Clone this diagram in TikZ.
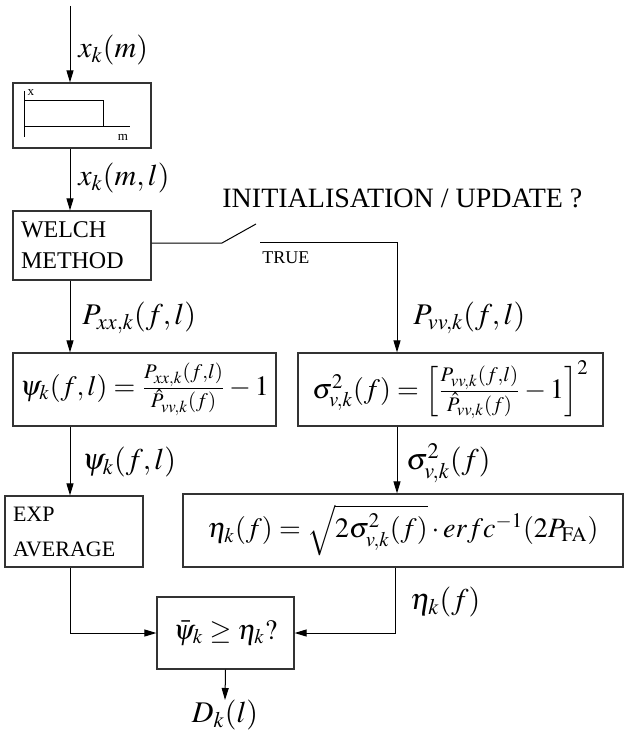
\documentclass[tikz,border=0pt]{standalone}
\usepackage{mathptmx}
\usepackage{fontspec}
\setmainfont{Liberation Serif}
\usepackage{tikz}
\usetikzlibrary{arrows.meta}

\begin{document}
\begin{tikzpicture}[x=0.5pt, y=-0.5pt,
  block/.style={rectangle, draw=black!80, line width=0.6pt, inner sep=0pt},
  txtblock/.style={block, align=left, inner xsep=4pt, text width=61pt,
    font=\fontsize{12}{15.5}\selectfont},
  eqn/.style={block, minimum height=36.5pt, font=\fontsize{14}{16}\selectfont},
  lbl/.style={anchor=west, inner sep=0pt, font=\fontsize{15}{18}\selectfont},
  tiny/.style={inner sep=0pt, font=\fontsize{6.5}{7}\selectfont},
  flow/.style={-{Triangle[length=6pt,width=3.5pt]}, line width=0.5pt},
  wire/.style={line width=0.5pt},
]
  \useasboundingbox (0,0) rectangle (624,733);

  % blocks
  \node[block, minimum width=69pt, minimum height=32.5pt] (frame) at (82,115.5) {};
  \node[txtblock, minimum height=34.5pt] (welch) at (82,245.5) {WELCH\\METHOD};
  \node[eqn, minimum width=131.5pt] (psi) at (144.5,389.5)
    {$\psi_k(f,l)=\frac{P_{xx,k}(f,l)}{\hat{P}_{vv,k}(f)}-1$};
  \node[eqn, minimum width=152.5pt] (sigma) at (450.5,389.5)
    {$\sigma^2_{v,k}(f)=\left[\frac{P_{vv,k}(f,l)}{\hat{P}_{vv,k}(f)}-1\right]^2$};
  \node[txtblock, minimum height=35.5pt, font=\fontsize{11}{17.5}\selectfont] (expavg)
    at (74,531.5) {EXP\\AVERAGE};
  \node[eqn, minimum width=220pt] (eta) at (403,530.5)
    {$\eta_k(f)=\sqrt{2\sigma^2_{v,k}(f)}\cdot erfc^{-1}(2P_{\mathrm{FA}})$};
  \node[eqn, minimum width=68.5pt, minimum height=36pt] (decide) at (225.5,633)
    {$\bar{\psi}_k\geq\eta_k?$};
  \node[lbl, anchor=north] (out) at (225,700) {$D_k(l)$};

  % frame sketch
  \draw[wire] (24,91) -- (24,137);
  \draw[wire] (24,101) -| (103,127);
  \draw[wire] (24,127) -- (130,127);
  \node[tiny] (fx) at (31,93) {x};
  \node[tiny] (fm) at (123,137) {m};

  % columns and switch
  \coordinate (src) at (70,6);
  \coordinate (lx) at (70,0);
  \coordinate (rx) at (397,0);
  \coordinate (ex) at (395,0);
  \coordinate (swa) at (222,243);
  \coordinate (swb) at (256,224);
  \coordinate (swc) at (260,242);

  % connectors
  \draw[flow] (src) -- (src |- frame.north);
  \draw[flow] (frame.south -| lx) -- (welch.north -| lx);
  \draw[flow] (welch.south -| lx) -- (psi.north -| lx);
  \draw[flow] (psi.south -| lx) -- (expavg.north -| lx);
  \draw[flow] (expavg.south -| lx) |- (decide.west);
  \draw[wire] (welch.east |- swa) -- (swa) -- (swb);
  \draw[flow] (swc) -| (sigma.north -| rx);
  \draw[flow] (sigma.south -| rx) -- (eta.north -| rx);
  \draw[flow] (eta.south -| ex) |- (decide.east);
  \draw[flow] (decide.south) -- (out.north);

  % labels
  \node[lbl] (lxm) at (78,50) {$x_k(m)$};
  \node[lbl] (lxml) at (78,178) {$x_k(m,l)$};
  \node[lbl] (lpxx) at (82,318) {$P_{xx,k}(f,l)$};
  \node[lbl] (lpvv) at (413,318) {$P_{vv,k}(f,l)$};
  \node[lbl] (lpsi) at (82,462) {$\psi_k(f,l)$};
  \node[lbl] (lsig) at (406,463) {$\sigma^2_{v,k}(f)$};
  \node[lbl] (leta) at (410,602) {$\eta_k(f)$};
  \node[anchor=west, inner sep=0pt, font=\fontsize{14}{16}\selectfont] (init)
    at (222,198) {INITIALISATION / UPDATE ?};
  \node[anchor=west, inner sep=0pt, font=\fontsize{9}{10}\selectfont] (true)
    at (262,258) {TRUE};
\end{tikzpicture}
\end{document}
